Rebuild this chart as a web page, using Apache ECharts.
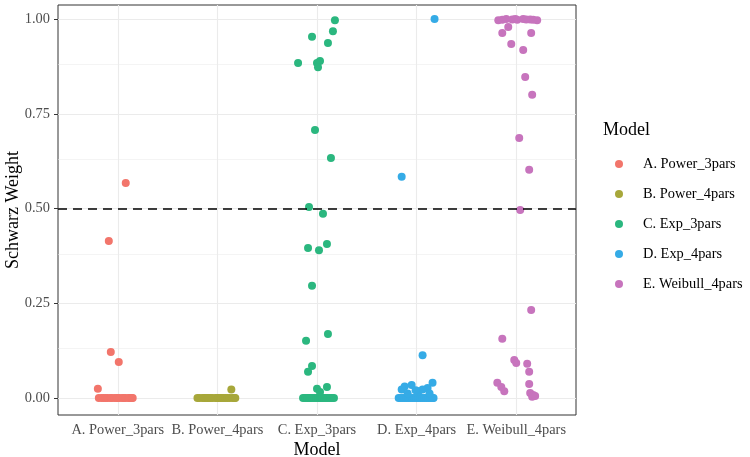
<!DOCTYPE html>
<html><head><meta charset="utf-8">
<script src="https://cdn.jsdelivr.net/npm/echarts@6/dist/echarts.min.js"></script>
<style>html,body{margin:0;padding:0;background:#fff}#c{width:750px;height:457px}</style>
</head><body><div id="c"></div>
<script>
const categories = ['A. Power_3pars','B. Power_4pars','C. Exp_3pars','D. Exp_4pars','E. Weibull_4pars'];
const yTicks = [0, 0.25, 0.5, 0.75, 1];
const yMinor = [0.125, 0.375, 0.625, 0.875];
const threshold = 0.5;
const colors = ['#F2756B', '#A7A73A', '#2BB77F', '#35ABE6', '#C774BD'];

// non-zero jittered points [x, weight]
const powerThree = [[1.08,0.567],[0.91,0.414],[0.93,0.121],[1.01,0.095],[0.80,0.024]];
const powerFour = [[2.14,0.022]];
const expThree = [[3.18,0.997],[3.16,0.968],[2.95,0.953],[3.11,0.937],[2.81,0.884],[3.00,0.884],[3.03,0.889],[3.01,0.873],
  [2.98,0.707],[3.14,0.633],[2.92,0.504],[3.06,0.486],[2.91,0.396],[3.02,0.390],[3.10,0.406],[2.95,0.296],
  [3.11,0.169],[2.89,0.151],[2.95,0.084],[2.91,0.069],[3.00,0.024],[3.10,0.029],[3.03,0.016]];
const expFour = [[4.18,1.0],[3.85,0.584],[4.06,0.113],[3.88,0.030],[3.95,0.034],[4.16,0.040],[4.11,0.026],[3.85,0.022],
  [4.02,0.018],[3.91,0.012],[4.13,0.012],[4.06,0.022],[3.99,0.020]];
const weibullFour = [[4.82,0.997],[4.90,1.0],[4.96,0.999],[5.01,0.998],[5.07,1.0],[5.14,0.999],[5.21,0.997],[4.86,0.998],[4.99,1.0],[5.10,0.999],[5.17,0.998],
  [4.92,0.979],[4.86,0.963],[5.15,0.963],[4.95,0.934],[5.07,0.918],[5.09,0.847],[5.16,0.800],[5.03,0.686],[5.13,0.602],
  [5.04,0.496],[5.15,0.232],[4.86,0.156],[4.98,0.100],[5.00,0.092],[5.11,0.090],[5.13,0.069],[5.13,0.037],
  [4.81,0.040],[4.85,0.029],[4.88,0.018],[5.14,0.013],[5.17,0.008],[5.16,0.003],[5.19,0.005]];

// x positions of points with weight 0
const powerThreeZeros = [0.81,0.84,0.86,0.88,0.90,0.93,0.94,0.97,0.99,1.00,1.02,1.05,1.06,1.08,1.11,1.12,1.14,1.15];
const powerFourZeros = [1.80,1.82,1.85,1.87,1.88,1.90,1.91,1.93,1.95,1.98,2.00,2.01,2.03,2.04,2.06,2.08,2.10,2.12,2.15,2.17,2.18];
const expThreeZeros = [2.86,2.88,2.90,2.92,2.93,2.95,2.97,2.99,3.01,3.03,3.04,3.05,3.07,3.09,3.11,3.13,3.15,3.17];
const expFourZeros = [3.82,3.84,3.86,3.88,3.90,3.92,3.94,3.96,3.98,4.00,4.02,4.04,4.06,4.08,4.10,4.12,4.14,4.16,4.17];
const weibullFourZeros = [];

const groups = [
  [powerThree, powerThreeZeros], [powerFour, powerFourZeros], [expThree, expThreeZeros],
  [expFour, expFourZeros], [weibullFour, weibullFourZeros]
];

const FONT = '"Liberation Serif","Times New Roman",serif';
const chart = echarts.init(document.getElementById('c'), null, {renderer: 'canvas'});

const gridLines = [];
categories.forEach((c, i) => gridLines.push({xAxis: i + 1, lineStyle: {width: 1.1}}));
yTicks.forEach(v => gridLines.push({yAxis: v, lineStyle: {width: 1.1}}));
yMinor.forEach(v => gridLines.push({yAxis: v, lineStyle: {width: 0.55}}));

const series = [{
  type: 'scatter', name: '_grid', data: [], silent: true, z: 1,
  markLine: {silent: true, z: 1, symbol: ['none', 'none'], label: {show: false}, animation: false,
    lineStyle: {color: '#EBEBEB', type: 'solid'}, data: gridLines}
}];
categories.forEach((name, i) => {
  const [pts, zeros] = groups[i];
  series.push({
    type: 'scatter', name: name, symbolSize: 8, z: 3,
    itemStyle: {color: colors[i], opacity: 1, borderWidth: 0},
    emphasis: {disabled: true},
    data: zeros.map(x => [x, 0]).concat(pts)
  });
});
series.push({
  type: 'scatter', name: '_thr', data: [], silent: true, z: 5,
  markLine: {silent: true, z: 5, symbol: ['none', 'none'], label: {show: false}, animation: false,
    lineStyle: {color: '#000', type: [9, 6], width: 1.6}, data: [{yAxis: threshold}]}
});

chart.setOption({
  animation: false,
  backgroundColor: '#fff',
  color: colors,
  title: {text: 'Model', left: 603, top: 121, padding: 0,
    textStyle: {fontFamily: FONT, fontSize: 18, fontWeight: 'normal', color: '#000'}},
  legend: {
    data: categories, orient: 'vertical', left: 615, top: 157, padding: 0,
    icon: 'circle', itemWidth: 8, itemHeight: 8, itemGap: 16,
    itemStyle: {borderWidth: 0},
    textStyle: {fontFamily: FONT, fontSize: 14.4, color: '#000', lineHeight: 14, padding: [0, 0, 0, 15]}
  },
  grid: {left: 58, right: 174, top: 5, bottom: 42, show: true, borderColor: '#333', borderWidth: 1,
    backgroundColor: '#fff', containLabel: false, outerBoundsMode: 'none'},
  xAxis: {
    type: 'value', min: 0.4, max: 5.6,
    name: 'Model', nameLocation: 'middle', nameGap: 26, nameMoveOverlap: false,
    nameTextStyle: {fontFamily: FONT, fontSize: 18, color: '#000'},
    axisLine: {show: false},
    axisTick: {show: true, length: 4, customValues: [1, 2, 3, 4, 5], lineStyle: {color: '#333'}},
    axisLabel: {customValues: [1, 2, 3, 4, 5], margin: 8, fontFamily: FONT, fontSize: 14.4, color: '#4D4D4D',
      formatter: v => categories[Math.round(v) - 1] || ''},
    splitLine: {show: false}
  },
  yAxis: {
    type: 'value', min: -0.045, max: 1.037,
    name: 'Schwarz Weight', nameLocation: 'middle', nameGap: 36, nameRotate: 90, nameMoveOverlap: false,
    nameTextStyle: {fontFamily: FONT, fontSize: 18, color: '#000'},
    axisLine: {show: false},
    axisTick: {show: true, length: 4, customValues: yTicks, lineStyle: {color: '#333'}},
    axisLabel: {customValues: yTicks, margin: 8, fontFamily: FONT, fontSize: 14.4, color: '#4D4D4D',
      formatter: v => v.toFixed(2)},
    splitLine: {show: false}
  },
  series: series
});
</script></body></html>
